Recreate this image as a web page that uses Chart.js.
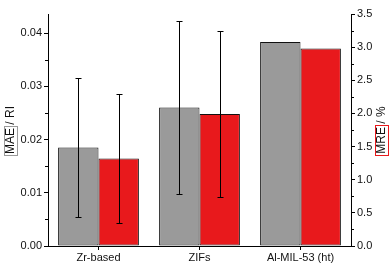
<!DOCTYPE html>
<html>
<head>
<meta charset="utf-8">
<script src="https://cdn.jsdelivr.net/npm/chart.js@4/dist/chart.umd.min.js"></script>
<style>
html,body{margin:0;padding:0;background:#fff;}
#wrap{width:391px;height:267px;position:relative;}
</style>
</head>
<body>
<div id="wrap"><canvas id="c" width="391" height="267"></canvas></div>
<script>
const categories = ['Zr-based', 'ZIFs', 'Al-MIL-53 (ht)'];
const maeValues = [0.0185, 0.0260, 0.0383];
const maeErrors = [0.0131, 0.0163, null];
const mreValues = [1.32, 1.99, 2.98];
const mreErrors = [0.97, 1.25, null];
const maeTicks = [0, 0.01, 0.02, 0.03, 0.04];
const mreTicks = [0, 0.5, 1.0, 1.5, 2.0, 2.5, 3.0, 3.5];

const FONT = "'Liberation Sans', Arial, sans-serif";

const errorBarPlugin = {
  id: 'errorBars',
  afterDatasetsDraw(chart) {
    const ctx = chart.ctx;
    const errs = [maeErrors, mreErrors];
    ctx.save();
    ctx.strokeStyle = '#000';
    ctx.lineWidth = 1;
    chart.data.datasets.forEach((ds, di) => {
      const meta = chart.getDatasetMeta(di);
      const yScale = chart.scales[ds.yAxisID];
      meta.data.forEach((bar, i) => {
        const e = errs[di][i];
        if (e == null) return;
        const v = ds.data[i];
        const x = Math.round(bar.x) + 0.5;
        const yTop = Math.round(yScale.getPixelForValue(v + e)) + 0.5;
        const yBot = Math.round(yScale.getPixelForValue(v - e)) + 0.5;
        ctx.beginPath();
        ctx.moveTo(x, yTop); ctx.lineTo(x, yBot);
        ctx.moveTo(x - 3, yTop); ctx.lineTo(x + 3, yTop);
        ctx.moveTo(x - 3, yBot); ctx.lineTo(x + 3, yBot);
        ctx.stroke();
      });
    });
    ctx.restore();
  }
};

const minorTickPlugin = {
  id: 'minorTicks',
  afterDraw(chart) {
    const ctx = chart.ctx;
    ctx.save();
    ctx.strokeStyle = '#000';
    ctx.lineWidth = 1;
    const yl = chart.scales.yMAE, yr = chart.scales.yMRE;
    for (let i = 0; i < maeTicks.length; i++) {
      const v = maeTicks[i] + 0.005;
      if (v > yl.max) break;
      const y = Math.round(yl.getPixelForValue(v)) + 0.5;
      ctx.beginPath(); ctx.moveTo(yl.right - 3, y); ctx.lineTo(yl.right, y); ctx.stroke();
    }
    for (let i = 0; i < mreTicks.length - 1; i++) {
      const v = mreTicks[i] + 0.25;
      const y = Math.round(yr.getPixelForValue(v)) + 0.5;
      ctx.beginPath(); ctx.moveTo(yr.left, y); ctx.lineTo(yr.left + 3, y); ctx.stroke();
    }
    ctx.restore();
  }
};

const titlePlugin = {
  id: 'boxTitles',
  afterDraw(chart) {
    const ctx = chart.ctx;
    const a = chart.chartArea;
    const cy = (a.top + a.bottom) / 2;
    function draw(cx, boxed, rest, boxColor) {
      ctx.save();
      ctx.translate(cx, cy);
      ctx.rotate(-Math.PI / 2);
      ctx.font = '12px ' + FONT;
      ctx.fillStyle = '#111';
      ctx.textBaseline = 'middle';
      ctx.textAlign = 'left';
      const w1 = ctx.measureText(boxed).width;
      const w2 = ctx.measureText(rest).width;
      const x0 = -(w1 + w2) / 2;
      ctx.fillText(boxed, x0, 0);
      ctx.fillText(rest, x0 + w1, 0);
      ctx.strokeStyle = boxColor;
      ctx.lineWidth = 1;
      ctx.strokeRect(Math.round(x0 - 2) + 0.5, -6.5, Math.round(w1 + 3), 13);
      ctx.restore();
    }
    draw(a.left - 37, 'MAE', ' / RI', '#9a9a9a');
    draw(a.right + 31, 'MRE', ' / %', '#e8191c');
  }
};

new Chart(document.getElementById('c'), {
  type: 'bar',
  data: {
    labels: categories,
    datasets: [
      { label: 'MAE', data: maeValues, yAxisID: 'yMAE', backgroundColor: '#9a9a9a', borderColor: '#111', borderWidth: 1, borderSkipped: false, categoryPercentage: 0.8, barPercentage: 1.0 },
      { label: 'MRE', data: mreValues, yAxisID: 'yMRE', backgroundColor: '#e8191c', borderColor: '#111', borderWidth: 1, borderSkipped: false, categoryPercentage: 0.8, barPercentage: 1.0 }
    ]
  },
  options: {
    responsive: false,
    animation: false,
    devicePixelRatio: 1,
    layout: { padding: { top: 14, left: 0, right: 0, bottom: 0 } },
    plugins: { legend: { display: false }, tooltip: { enabled: false } },
    scales: {
      x: {
        offset: true,
        grid: { display: true, drawOnChartArea: false, drawTicks: true, tickLength: 4, offset: false, color: '#000', tickColor: '#000' },
        border: { display: true, color: '#000', width: 1 },
        ticks: { color: '#111', font: { family: FONT, size: 11 }, padding: 1, maxRotation: 0 },
        afterFit(s) { s.height = 21; }
      },
      yMAE: {
        position: 'left',
        min: 0, max: 0.04357,
        grid: { drawOnChartArea: false, drawTicks: true, tickLength: 4, color: '#000', tickColor: '#000' },
        border: { display: true, color: '#000', width: 1 },
        afterBuildTicks(s) { s.ticks = maeTicks.map(v => ({ value: v })); },
        ticks: { color: '#111', font: { family: FONT, size: 11 }, padding: 2, callback: v => Number(v).toFixed(2) },
        afterFit(s) { s.width = 48; }
      },
      yMRE: {
        position: 'right',
        min: 0, max: 3.5,
        grid: { drawOnChartArea: false, drawTicks: true, tickLength: 4, color: '#000', tickColor: '#000' },
        border: { display: true, color: '#000', width: 1 },
        afterBuildTicks(s) { s.ticks = mreTicks.map(v => ({ value: v })); },
        ticks: { color: '#111', font: { family: FONT, size: 11 }, padding: 2, callback: v => Number(v).toFixed(1) },
        afterFit(s) { s.width = 40; }
      }
    }
  },
  plugins: [errorBarPlugin, minorTickPlugin, titlePlugin]
});
</script>
</body>
</html>
